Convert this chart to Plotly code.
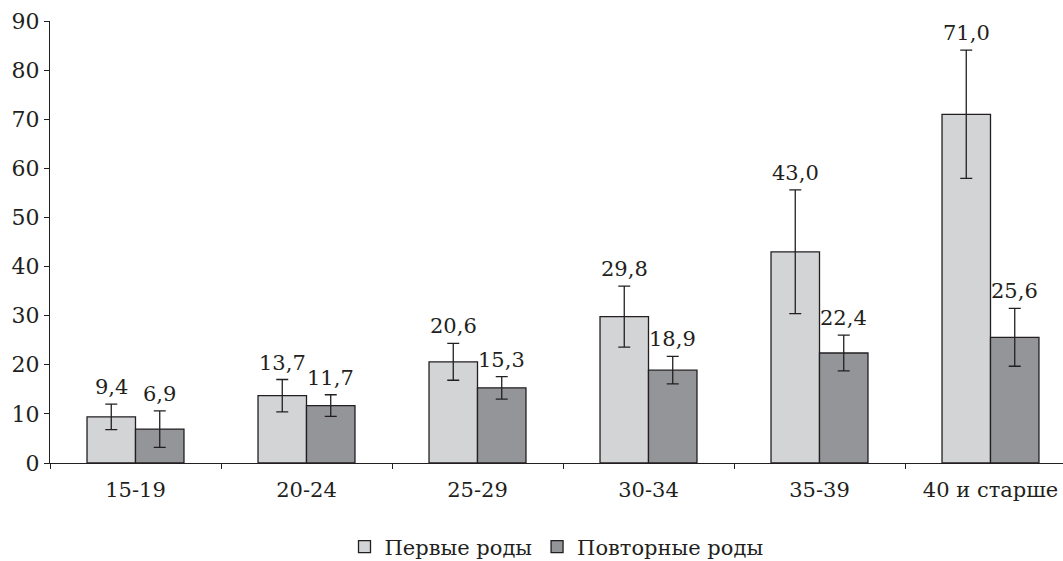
import plotly.graph_objects as go

categories = ["15-19", "20-24", "25-29", "30-34", "35-39", "40 и старше"]
first_births = [9.4, 13.7, 20.6, 29.8, 43.0, 71.0]
first_err = [2.6, 3.3, 3.75, 6.2, 12.6, 13.05]
repeat_births = [6.9, 11.7, 15.3, 18.9, 22.4, 25.6]
repeat_err = [3.7, 2.2, 2.3, 2.8, 3.65, 5.9]
series_names = ["Первые роды", "Повторные роды"]

FONT = "DejaVu Serif"
EDGE = "#231f20"

fig = go.Figure()
fig.add_trace(go.Bar(
    x=categories, y=first_births, name=series_names[0],
    marker=dict(color="#d3d4d6", line=dict(color=EDGE, width=1.3)),
    error_y=dict(type="data", array=first_err, color=EDGE, thickness=1.3, width=6),
))
fig.add_trace(go.Bar(
    x=categories, y=repeat_births, name=series_names[1],
    marker=dict(color="#939598", line=dict(color=EDGE, width=1.3)),
    error_y=dict(type="data", array=repeat_err, color=EDGE, thickness=1.3, width=6),
))

bargap = 0.433
half = (1 - bargap) / 4
for i in range(len(categories)):
    for vals, errs, off in ((first_births, first_err, -half), (repeat_births, repeat_err, half)):
        fig.add_annotation(
            x=i + off, y=vals[i] + errs[i], xref="x", yref="y",
            text=f"{vals[i]:.1f}".replace(".", ","),
            showarrow=False, yanchor="bottom", yshift=3,
            font=dict(family=FONT, size=21, color=EDGE),
        )

fig.update_layout(
    width=1063, height=561,
    margin=dict(l=50, r=0, t=21, b=98, autoexpand=False),
    paper_bgcolor="white", plot_bgcolor="white",
    barmode="group", bargap=bargap, bargroupgap=0,
    font=dict(family=FONT, size=21, color=EDGE),
    showlegend=True,
    legend=dict(orientation="h", x=0.5, xanchor="center", y=-0.19, yanchor="middle",
                font=dict(family=FONT, size=21, color=EDGE), itemwidth=30,
                traceorder="normal"),
)
fig.update_xaxes(
    type="category", range=[-0.5, 5.424], automargin=False,
    showline=True, linecolor=EDGE, linewidth=1.3,
    ticks="outside", ticklen=5, tickcolor=EDGE, tickwidth=1,
    tickson="boundaries", showgrid=False, zeroline=False,
    ticklabelstandoff=8,
    tickfont=dict(family=FONT, size=21, color=EDGE),
)
fig.update_yaxes(
    range=[0, 90], dtick=10, automargin=False,
    showline=True, linecolor=EDGE, linewidth=1.3,
    ticks="outside", ticklen=5, tickcolor=EDGE, tickwidth=1,
    showgrid=False, zeroline=False,
    tickfont=dict(family=FONT, size=22, color=EDGE),
)

fig.write_html("out.html", config={"displayModeBar": False},
               post_script="document.body.style.margin='0';")
